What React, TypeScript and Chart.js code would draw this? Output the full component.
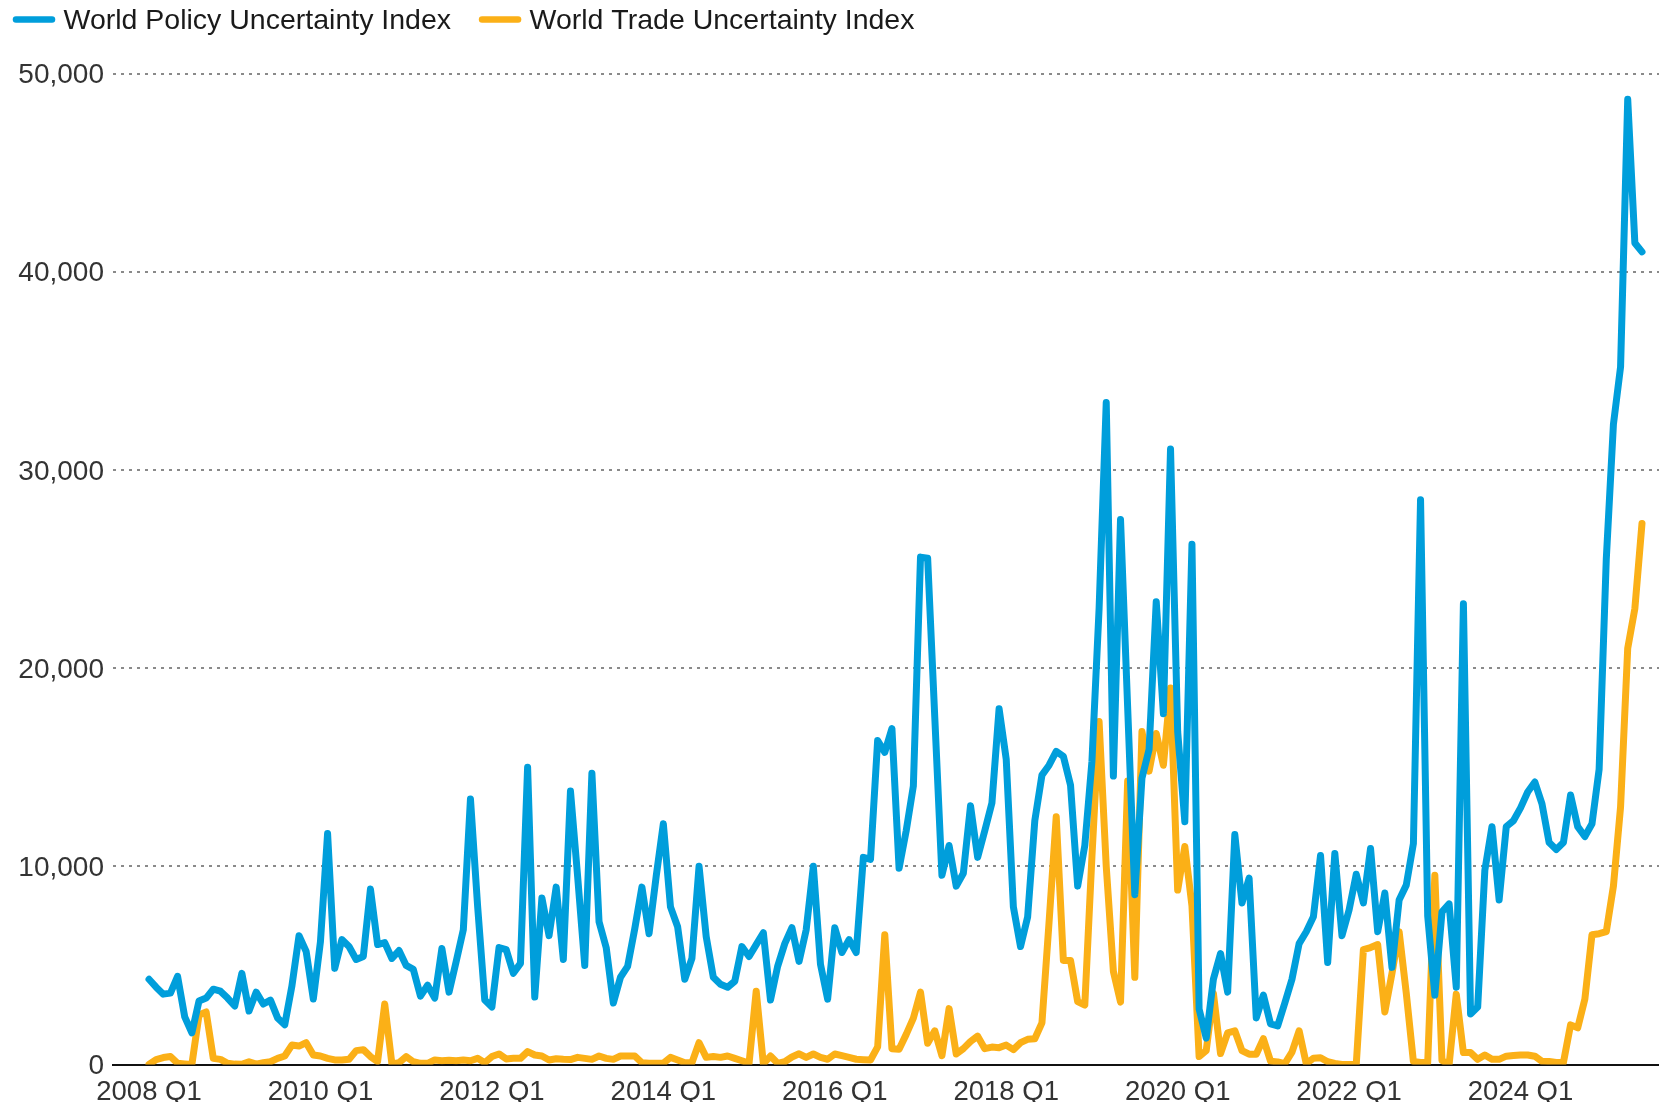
import React, { useEffect, useRef } from 'react';
import { Chart, registerables } from 'chart.js';

Chart.register(...registerables);

// Monthly observations, January 2008 to June 2025
const SERIES_NAMES = ['World Policy Uncertainty Index', 'World Trade Uncertainty Index'];
const SERIES_COLORS = ['#009EDB', '#FBB017'];

const WPU = [
  4300, 3900, 3550, 3600, 4450, 2400, 1600, 3200, 3350, 3800, 3700, 3350,
  2950, 4600, 2700, 3650, 3050, 3250, 2350, 2000, 3950, 6500, 5700, 3300,
  6200, 11650, 4850, 6300, 5950, 5300, 5450, 8850, 6050, 6150, 5350, 5750,
  5000, 4800, 3450, 4000, 3350, 5850, 3650, 5200, 6800, 13400, 8000, 3250,
  2900, 5900, 5800, 4600, 5100, 15000, 3400, 8400, 6500, 8950, 5300, 13800,
  9500, 5000, 14700, 7200, 5900, 3100, 4400, 4950, 6850, 8950, 6600, 9500,
  12150, 7950, 6950, 4300, 5350, 10000, 6450, 4400, 4050, 3900, 4200, 5950,
  5450, 6050, 6650, 3250, 4950, 6100, 6900, 5200, 6800, 10000, 5050, 3300,
  6900, 5650, 6300, 5650, 10450, 10350, 16350, 15750, 16950, 9900, 11800, 14050,
  25600, 25550, 17500, 9550, 11050, 9000, 9650, 13050, 10450, 11800, 13200, 17950,
  15400, 7950, 5950, 7450, 12300, 14600, 15100, 15800, 15550, 14100, 9000, 11050,
  15300, 23000, 33400, 14550, 27500, 18000, 8570, 14450, 15900, 23350, 17700, 31050,
  16800, 12250, 26250, 2800, 1330, 4300, 5600, 3650, 11600, 8150, 9400, 2350,
  3500, 2050, 1950, 3100, 4300, 6100, 6700, 7450, 10550, 5150, 10650, 6500,
  7800, 9600, 8150, 10900, 6700, 8650, 4900, 8300, 9050, 11150, 28500, 7500,
  3500, 7700, 8100, 3900, 23250, 2550, 2900, 9800, 12000, 8300, 12000, 12300,
  12950, 13750, 14250, 13150, 11200, 10850, 11200, 13600, 12000, 11500, 12150, 14900,
  25500, 32300, 35200, 48700, 41450, 41000,
];

const WTU = [
  0, 250, 350, 400, 60, 30, 0, 2500, 2650, 310, 260, 60,
  20, 10, 140, 20, 90, 140, 310, 430, 980, 930, 1100, 480,
  430, 310, 230, 230, 260, 700, 750, 400, 150, 3050, 30, 90,
  400, 140, 60, 60, 230, 190, 210, 190, 230, 190, 310, 90,
  400, 530, 280, 310, 310, 650, 480, 430, 230, 290, 260, 250,
  360, 310, 260, 430, 310, 260, 430, 430, 430, 90, 60, 60,
  60, 360, 230, 90, 90, 1100, 360, 400, 360, 430, 310, 190,
  60, 3700, 30, 430, 60, 140, 380, 540, 355, 530, 355, 265,
  530, 445, 355, 265, 245, 225, 890, 6550, 800, 770, 1520, 2340,
  3650, 1070, 1700, 445, 2820, 530, 800, 1160, 1430, 800, 880, 850,
  980, 750, 1100, 1270, 1300, 2100, 7200, 12500, 5250, 5250, 3170, 3000,
  10500, 17300, 10000, 4700, 3150, 14300, 4400, 16800, 14800, 16700, 15100, 19000,
  8800, 11000, 8000, 400, 700, 3600, 550, 1600, 1700, 700, 520, 520,
  1300, 170, 130, 40, 620, 1700, 40, 320, 340, 140, 50, 0,
  0, 0, 5800, 5900, 6050, 2650, 4600, 6700, 3600, 150, 100, 100,
  9550, 200, 0, 3550, 600, 600, 260, 480, 260, 260, 420, 450,
  480, 480, 420, 160, 150, 100, 100, 2000, 1850, 3300, 6550, 6600,
  6700, 9000, 13000, 21000, 23000, 27300,
];

const Y_TICKS = [0, 10000, 20000, 30000, 40000, 50000];
const X_TICK_MONTHS = [0, 24, 48, 72, 96, 120, 144, 168, 192];
const X_TICK_LABELS = ['2008 Q1', '2010 Q1', '2012 Q1', '2014 Q1', '2016 Q1', '2018 Q1', '2020 Q1', '2022 Q1', '2024 Q1'];

const FONT_FAMILY = '"Liberation Sans", Arial, Helvetica, sans-serif';
const TEXT_COLOR = '#333333';

const legendPlugin = {
  id: 'topLineLegend',
  afterDraw(chart: any) {
    const ctx = chart.ctx as CanvasRenderingContext2D;
    ctx.save();
    ctx.font = `28.5px ${FONT_FAMILY}`;
    ctx.textBaseline = 'middle';
    ctx.textAlign = 'left';
    const lineY = 19.5;
    const textY = 21;
    let x = 16;
    chart.data.datasets.forEach((ds: any) => {
      ctx.strokeStyle = ds.borderColor;
      ctx.lineWidth = 6.5;
      ctx.lineCap = 'round';
      ctx.beginPath();
      ctx.moveTo(x, lineY);
      ctx.lineTo(x + 36, lineY);
      ctx.stroke();
      const tx = x + 47.5;
      ctx.fillStyle = '#1a1a1a';
      ctx.fillText(ds.label, tx, textY);
      const w = ctx.measureText(ds.label).width;
      x = tx + w + 31;
    });
    ctx.restore();
  },
};

export default function App() {
  const canvasRef = useRef<HTMLCanvasElement | null>(null);

  useEffect(() => {
    const canvas = canvasRef.current;
    if (!canvas) return;
    const series = [WPU, WTU];
    const chart = new Chart(canvas, {
      type: 'line',
      data: {
        datasets: series.map((vals, k) => ({
          label: SERIES_NAMES[k],
          data: vals.map((v, i) => ({ x: i, y: v })),
          borderColor: SERIES_COLORS[k],
          backgroundColor: SERIES_COLORS[k],
          borderWidth: 7,
          pointRadius: 0,
          pointHoverRadius: 0,
          tension: 0,
          fill: false,
          borderJoinStyle: 'round',
          borderCapStyle: 'round',
        })),
      },
      options: {
        responsive: false,
        animation: false,
        devicePixelRatio: 1,
        layout: { padding: { top: 73.5, left: 0, right: 0, bottom: 0 } },
        plugins: {
          legend: { display: false },
          tooltip: { enabled: false },
        },
        scales: {
          x: {
            type: 'linear',
            min: -5.04,
            max: 211.38,
            grid: { display: false, drawTicks: false },
            border: { display: true, color: '#111111', width: 2 },
            afterBuildTicks: (axis: any) => {
              axis.ticks = X_TICK_MONTHS.map((v) => ({ value: v }));
            },
            afterFit: (axis: any) => {
              axis.height = 37.5;
            },
            ticks: {
              autoSkip: false,
              maxRotation: 0,
              padding: 14,
              color: TEXT_COLOR,
              font: { family: FONT_FAMILY, size: 27.5, lineHeight: 1 },
              callback: (v: any) => {
                const idx = X_TICK_MONTHS.indexOf(Number(v));
                return idx >= 0 ? X_TICK_LABELS[idx] : '';
              },
            },
          },
          y: {
            min: 0,
            max: 50000,
            afterBuildTicks: (axis: any) => {
              axis.ticks = Y_TICKS.map((v) => ({ value: v }));
            },
            afterFit: (axis: any) => {
              axis.width = 113;
            },
            grid: {
              drawTicks: false,
              lineWidth: 2,
              color: (c: any) => (c.tick && c.tick.value === 0 ? 'rgba(0,0,0,0)' : '#8a8a8a'),
            },
            border: { display: false, dash: [3, 5] },
            ticks: {
              padding: 9,
              labelOffset: 2,
              color: TEXT_COLOR,
              font: { family: FONT_FAMILY, size: 28 },
              callback: (v: any) => Number(v).toLocaleString('en-US'),
            },
          },
        },
      },
      plugins: [legendPlugin],
    });
    return () => chart.destroy();
  }, []);

  return (
    <div style={{ position: 'absolute', left: 0, top: 0, width: 1659, height: 1102, background: '#ffffff' }}>
      <canvas ref={canvasRef} width={1659} height={1102} />
    </div>
  );
}
